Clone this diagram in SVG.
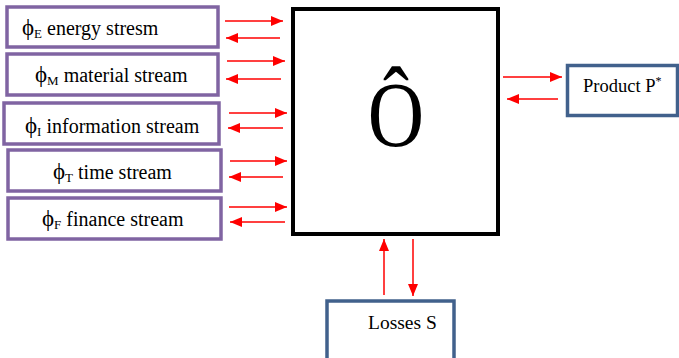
<svg xmlns="http://www.w3.org/2000/svg" width="679" height="358" viewBox="0 0 679 358">
<defs>
<marker id="ah" markerUnits="userSpaceOnUse" viewBox="0 0 12 10" markerWidth="12" markerHeight="10" refX="12" refY="5" orient="auto">
<path d="M0,0 L12,5 L0,10 z" fill="#FF0000"/>
</marker>
</defs>
<style>
.stream{fill:#fff;stroke:#8064A2;stroke-width:3.5}
.out{fill:#fff;stroke:#41618C;stroke-width:3.5}
.core{fill:#fff;stroke:#000;stroke-width:4}
text{font-family:"Liberation Serif","Times New Roman",serif;fill:#000}
.lbl{font-size:20px}
.phi{font-size:23px}
.sub{font-size:13px}
.conn line{stroke:#FF0000;stroke-width:1.5;marker-end:url(#ah)}
</style>
<rect width="679" height="358" fill="#fff"/>
<g id="energy">
<rect class="stream" x="7" y="7" width="211" height="40"/>
<text class="lbl" x="22" y="35"><tspan class="phi">ϕ</tspan><tspan class="sub" dy="2.5">E</tspan><tspan dy="-2.5"> energy stresm</tspan></text>
</g>
<g id="material">
<rect class="stream" x="7" y="54" width="211" height="41"/>
<text class="lbl" x="35" y="82"><tspan class="phi">ϕ</tspan><tspan class="sub" dy="2.5">M</tspan><tspan dy="-2.5"> material stream</tspan></text>
</g>
<g id="information">
<rect class="stream" x="4" y="103" width="215" height="41"/>
<text class="lbl" x="25" y="133"><tspan class="phi">ϕ</tspan><tspan class="sub" dy="2.5">I</tspan><tspan dy="-2.5"> information stream</tspan></text>
</g>
<g id="time">
<rect class="stream" x="8" y="150" width="213" height="41"/>
<text class="lbl" x="53" y="179"><tspan class="phi">ϕ</tspan><tspan class="sub" dy="2.5">T</tspan><tspan dy="-2.5"> time stream</tspan></text>
</g>
<g id="finance">
<rect class="stream" x="8" y="198" width="213" height="41"/>
<text class="lbl" x="42" y="226"><tspan class="phi">ϕ</tspan><tspan class="sub" dy="2.5">F</tspan><tspan dy="-2.5"> finance stream</tspan></text>
</g>
<g id="operator">
<rect class="core" x="293" y="9" width="205" height="225"/>
<text transform="translate(396,146) scale(0.83,1)" text-anchor="middle" font-size="94">Ô</text>
</g>
<g id="product">
<rect class="out" x="567.5" y="65.5" width="110" height="50"/>
<text x="583" y="92" style="font-size:18.5px">Product P<tspan style="font-size:12px" dy="-7">*</tspan></text>
</g>
<g id="losses">
<rect class="out" x="327" y="301" width="127" height="60"/>
<text x="368" y="329" style="font-size:19.5px">Losses S</text>
</g>
<g id="connectors" class="conn">
<line x1="225" y1="21" x2="283" y2="21"/>
<line x1="280" y1="38" x2="226" y2="38"/>
<line x1="227" y1="61" x2="285" y2="61"/>
<line x1="281" y1="79" x2="226" y2="79"/>
<line x1="229" y1="113" x2="287" y2="113"/>
<line x1="283" y1="128" x2="228" y2="128"/>
<line x1="230" y1="161" x2="287" y2="161"/>
<line x1="283" y1="177" x2="229" y2="177"/>
<line x1="229" y1="207" x2="287" y2="207"/>
<line x1="285" y1="222" x2="230" y2="222"/>
<line x1="503" y1="77" x2="562" y2="77"/>
<line x1="558" y1="99" x2="507" y2="99"/>
<line x1="384" y1="295" x2="384" y2="239"/>
<line x1="413" y1="239" x2="413" y2="296"/>
</g>
</svg>
